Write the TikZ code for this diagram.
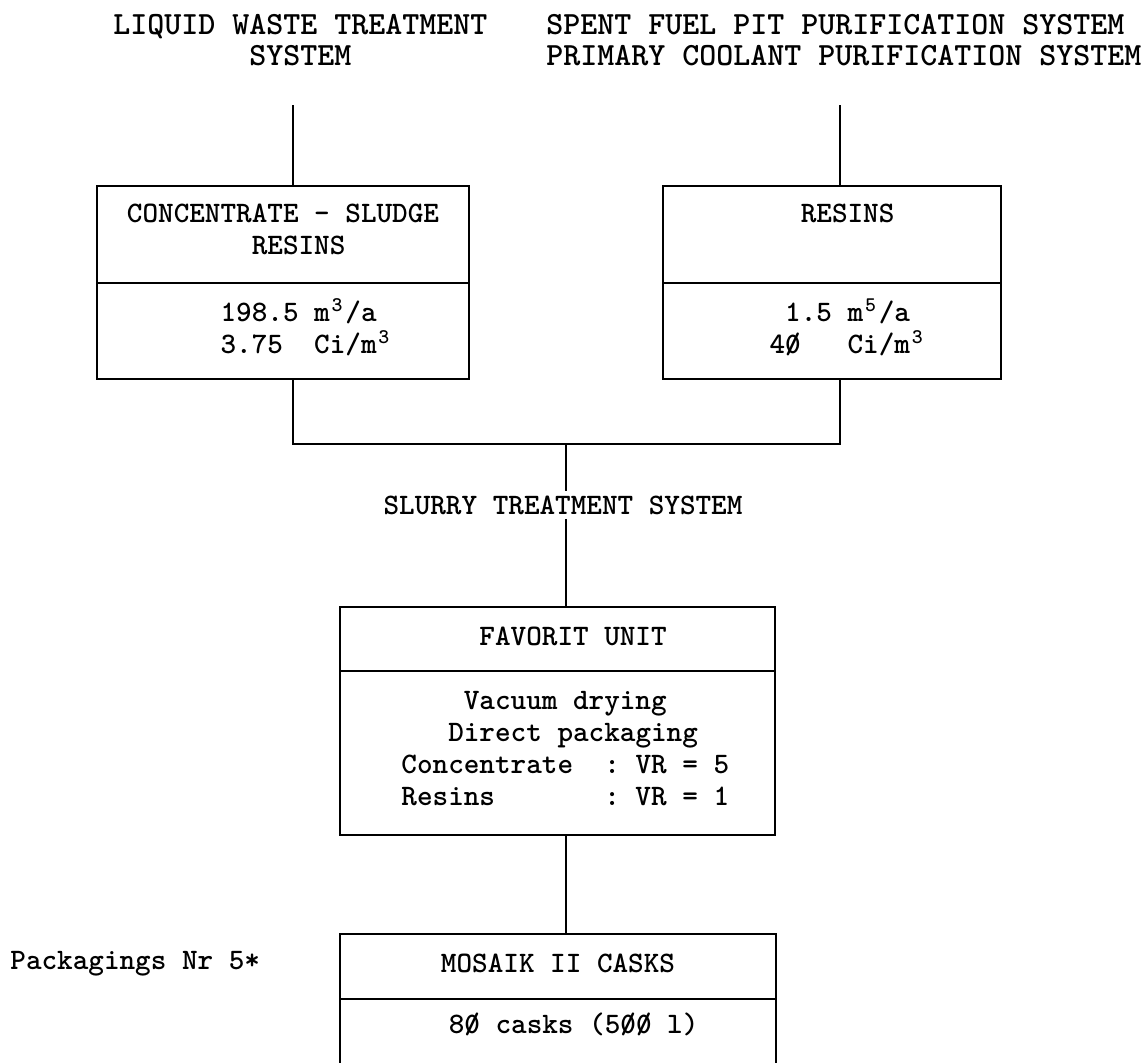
\documentclass[tikz,border=0pt]{standalone}
\usetikzlibrary{positioning}

\newcommand{\typefont}{\ttfamily\bfseries\fontsize{14.86}{16}\selectfont\frenchspacing}
\newcommand{\wideface}{\ttfamily\bfseries\fontsize{16.19}{15.5}\selectfont\frenchspacing}
\newcommand{\zs}{\rlap{0}/}
\newcommand{\supc}[1]{\makebox[0.525em]{\textsuperscript{#1}}}

\tikzset{
  box/.style={draw, line width=1pt, inner sep=0pt, outer sep=0pt, align=center, font=\typefont,
    execute at begin node=\strut, execute at end node=\strut},
  caption/.style={inner sep=0pt, align=left, font=\typefont},
  wire/.style={line width=1pt},
}

\begin{document}
\begin{tikzpicture}[x=0.5pt, y=-0.5pt]
  \useasboundingbox (0,0) rectangle (1144,1062);
  % feeding systems
  \node[caption, font=\wideface, anchor=north west] (lwsrc) at (113,14) {LIQUID WASTE TREATMENT\\~~~~~~~~SYSTEM};
  \node[caption, font=\wideface, anchor=north west] (pcsrc) at (546,14) {SPENT FUEL PIT PURIFICATION SYSTEM\\PRIMARY COOLANT PURIFICATION SYSTEM};

  % waste streams
  \node[box, minimum width=186pt, minimum height=48.5pt] (lwhead) at (283,234.5) {CONCENTRATE - SLUDGE\\~~RESINS};
  \node[box, minimum width=186pt, minimum height=48pt, anchor=north] (lwdata) at (lwhead.south) {~~198.5 m\supc{3}/a\\~~~3.75~~Ci/m\supc{3}};
  \node[box, minimum width=169pt, minimum height=48.5pt] (pchead) at (832,234.5) {~~RESINS\\~};
  \node[box, minimum width=169pt, minimum height=48pt, anchor=north] (pcdata) at (pchead.south) {~~1.5 m\supc{5}/a\\~~4\zs~~~Ci/m\supc{3}};

  \node[caption, inner sep=2pt] (slurry) at (563,505) {SLURRY TREATMENT SYSTEM};

  % conditioning
  \node[box, minimum width=217.5pt, minimum height=32pt] (fuhead) at (557.5,639) {~~FAVORIT UNIT};
  \node[box, minimum width=217.5pt, minimum height=82pt, anchor=north] (fudata) at (fuhead.south)
    {~Vacuum drying\\~~Direct packaging\\~Concentrate~~: VR = 5\\~Resins~~~~~~~: VR = 1};

  % final packaging
  \node[caption, anchor=base west] (pack) at (10,969) {Packagings Nr 5*};
  \node[box, minimum width=218pt, minimum height=32.5pt] (mchead) at (558,966.5) {MOSAIK II CASKS};
  \node[box, minimum width=218pt, minimum height=45pt, anchor=north] (mcdata) at (mchead.south) {~~8\zs{} casks (5\zs\zs{} l)\\~};

  % piping
  \coordinate (lwin) at (293,105);
  \coordinate (pcin) at (840,105);
  \coordinate (join) at (566,444);
  \draw[wire] (lwin) -- (lwin |- lwhead.north);
  \draw[wire] (pcin) -- (pcin |- pchead.north);
  \draw[wire] (lwin |- lwdata.south) |- (join) -| (pcin |- pcdata.south);
  \draw[wire] (join) -- (join |- slurry.north);
  \draw[wire] (join |- slurry.south) -- (join |- fuhead.north);
  \draw[wire] (join |- fudata.south) -- (join |- mchead.north);
\end{tikzpicture}
\end{document}
